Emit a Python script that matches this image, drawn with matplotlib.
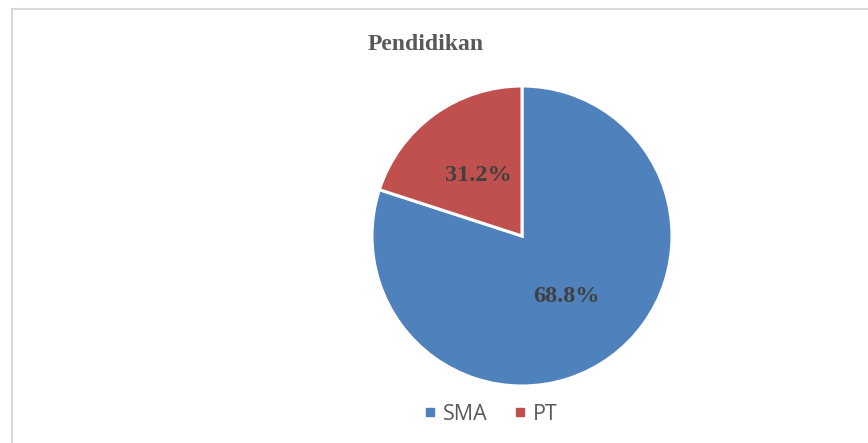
import matplotlib
matplotlib.use("Agg")
import matplotlib.pyplot as plt
from matplotlib.patches import Rectangle
from matplotlib.lines import Line2D

categories = ["SMA", "PT"]
shares = [80, 20]            # slice sizes as drawn
label_texts = ["68.8%", "31.2%"]
colors = ["#4F81BD", "#C0504D"]
title = "Pendidikan"

W, H = 868, 443
fig = plt.figure(figsize=(W / 100, H / 100), dpi=100)
fig.patch.set_facecolor("white")

# outer chart border (cropped on right/bottom)
fig.patches.append(Rectangle((12 / W, -0.05), 1.2, (H - 9) / H + 0.05,
                             transform=fig.transFigure, fill=False,
                             edgecolor="#D9D9D9", linewidth=1.5))

cx, cy, r = 522, 236, 150
ax = fig.add_axes([(cx - r) / W, (H - cy - r) / H, 2 * r / W, 2 * r / H])
it = iter(label_texts)
wedges, _, autotexts = ax.pie(
    shares, colors=colors, startangle=90, counterclock=False,
    autopct=lambda p: next(it), pctdistance=0.5, radius=1.0,
    wedgeprops=dict(edgecolor="white", linewidth=2.2))
for t in autotexts:
    t.set_fontfamily("Liberation Serif")
    t.set_fontweight("bold")
    t.set_fontsize(17.5)
    t.set_color("#404040")
ax.set_xlim(-1.0, 1.0)
ax.set_ylim(-1.0, 1.0)

fig.text(426 / W, 1 - 45 / H, title, ha="center", va="center",
         fontfamily="Liberation Serif", fontweight="bold", fontsize=17,
         color="#595959")

handles = [Line2D([], [], marker="s", linestyle="none", markersize=6,
                  markerfacecolor=c, markeredgecolor=c) for c in colors]
fig.legend(handles, categories, loc="center", bbox_to_anchor=(487 / W, 1 - 414 / H),
           ncol=2, frameon=False, handletextpad=0.0, handlelength=1.2,
           columnspacing=0.9, labelcolor="#595959",
           prop=dict(family="Open Sans", size=15.5))

fig.savefig("out.png", dpi=100)
